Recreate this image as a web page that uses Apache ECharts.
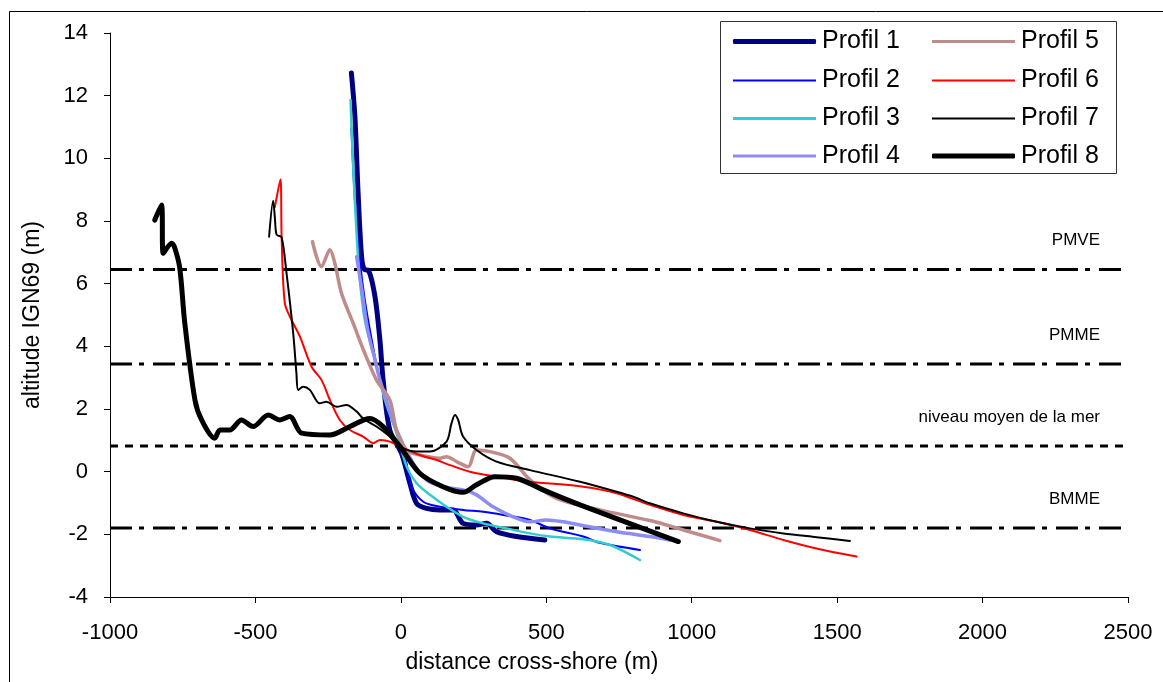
<!DOCTYPE html>
<html>
<head>
<meta charset="utf-8">
<script src="https://cdn.jsdelivr.net/npm/echarts@6/dist/echarts.min.js"></script>
<style>
html,body{margin:0;padding:0;background:#fff;}
#chart{width:1163px;height:682px;}
</style>
</head>
<body>
<div id="chart"></div>
<script>
// ---- data (distance cross-shore m, altitude IGN69 m) ----
const seriesNames = ['Profil 1','Profil 2','Profil 3','Profil 4','Profil 5','Profil 6','Profil 7','Profil 8'];
const profil1 = [[-170,12.72],[-158,11.33],[-147,8.89],[-135,6.86],[-125,6.45],[-112,6.43],[-89,5.59],[-72,4.20],[-61,2.93],[-38,1.33],[2,0.59],[31,-0.37],[54,-1.01],[88,-1.17],[134,-1.22],[180,-1.22],[214,-1.65],[260,-1.70],[295,-1.65],[329,-1.92],[398,-2.07],[495,-2.18]];
const profil2 = [[-170,10.96],[-158,8.67],[-141,6.75],[-124,5.48],[-100,4.20],[-72,2.93],[-15,1.33],[14,0.48],[37,-0.48],[77,-0.96],[134,-1.12],[214,-1.22],[283,-1.28],[352,-1.38],[444,-1.54],[512,-1.81],[627,-2.07],[684,-2.27],[822,-2.50]];
const profil3 = [[-173,11.86],[-165,9.95],[-151,7.40],[-141,6.12],[-124,4.84],[-89,3.57],[-55,2.29],[-15,1.23],[20,0.16],[54,-0.37],[100,-0.74],[157,-1.12],[214,-1.44],[283,-1.65],[363,-1.81],[444,-1.97],[512,-2.07],[627,-2.16],[719,-2.34],[822,-2.82]];
const profil4 = [[-152,6.86],[-134,5.80],[-114,4.52],[-89,3.57],[-72,2.93],[-15,1.33],[42,0.27],[88,-0.26],[145,-0.48],[214,-0.58],[260,-0.74],[317,-1.12],[386,-1.44],[444,-1.60],[501,-1.54],[558,-1.60],[616,-1.70],[742,-1.92],[856,-2.07],[925,-2.18]];
const profil5 = [[-304,7.34],[-273,6.54],[-244,7.08],[-227,6.65],[-204,5.69],[-164,4.74],[-124,3.78],[-84,2.93],[-38,2.29],[-15,1.33],[20,0.69],[65,0.53],[134,0.43],[157,0.48],[192,0.32],[231,0.16],[260,0.69],[306,0.64],[375,0.43],[444,-0.26],[535,-0.85],[684,-1.22],[856,-1.56],[971,-1.86],[1097,-2.20]];
const profil6 = [[-433,8.45],[-414,9.33],[-410,7.50],[-399,5.38],[-376,4.84],[-347,4.31],[-307,3.35],[-273,2.93],[-244,2.29],[-210,1.65],[-175,1.33],[-130,1.12],[-95,0.91],[-72,1.01],[-38,0.96],[8,0.75],[65,0.53],[123,0.37],[169,0.21],[237,0.00],[329,-0.16],[444,-0.32],[627,-0.48],[742,-0.69],[856,-1.06],[971,-1.38],[1086,-1.60],[1200,-1.86],[1315,-2.18],[1429,-2.45],[1567,-2.71]];
const profil7 = [[-453,7.50],[-439,8.65],[-433,8.09],[-427,7.56],[-410,7.48],[-393,6.33],[-370,4.41],[-359,3.14],[-353,2.61],[-336,2.71],[-313,2.61],[-279,2.18],[-256,2.23],[-221,2.07],[-187,2.13],[-152,1.92],[-130,1.70],[-84,1.44],[-38,1.12],[-3,0.80],[54,0.64],[100,0.64],[157,0.96],[174,1.54],[186,1.81],[197,1.65],[214,1.12],[260,0.69],[329,0.32],[444,0.05],[616,-0.32],[742,-0.64],[799,-0.80],[856,-1.01],[971,-1.33],[1086,-1.60],[1200,-1.81],[1315,-1.97],[1429,-2.09],[1544,-2.21]];
const profil8 = [[-846,8.03],[-823,8.51],[-817,6.97],[-788,7.29],[-777,7.13],[-760,6.49],[-743,4.75],[-708,2.29],[-685,1.65],[-640,1.07],[-622,1.33],[-588,1.33],[-548,1.65],[-508,1.44],[-456,1.81],[-416,1.65],[-382,1.76],[-341,1.23],[-244,1.17],[-175,1.44],[-107,1.70],[-61,1.44],[-3,0.80],[65,-0.05],[145,-0.48],[214,-0.66],[260,-0.42],[323,-0.16],[398,-0.21],[489,-0.58],[616,-1.06],[954,-2.23]];
const refLevels = [6.45, 3.44, 0.82, -1.80];
const refNames = ['PMVE', 'PMME', 'niveau moyen de la mer', 'BMME'];
const xTicks = [-1000, 2500, 500];
const yTicks = [-4, 14, 2];

const profiles = [profil1, profil2, profil3, profil4, profil5, profil6, profil7, profil8];
const styles = [
  {color:'#000080', width:5},
  {color:'#0000ff', width:2},
  {color:'#33cccc', width:2.5},
  {color:'#8c8cf2', width:3.5},
  {color:'#bf8c8c', width:3.5},
  {color:'#ff0000', width:2},
  {color:'#000000', width:2},
  {color:'#000000', width:5}
];
const legendIconH = [5, 2, 3, 3, 3, 2, 2, 5];
const refTypes = [[22,7,5,9],[22,7,5,9],[8,7],[22,7,5,9]];

const FONT = 'Liberation Sans, Arial, sans-serif';
const chart = echarts.init(document.getElementById('chart'), null, {renderer:'canvas'});

const series = [];
refLevels.forEach((lvl, i) => {
  series.push({
    name: refNames[i], type:'line', data:[[xTicks[0], lvl],[xTicks[1], lvl]],
    symbol:'none', silent:true, z:1,
    lineStyle:{color:'#000', width:3, type:refTypes[i]}
  });
});
profiles.forEach((p, i) => {
  series.push({
    name: seriesNames[i], type:'line', data:p, symbol:'none', showSymbol:false,
    smooth:0.3, z:2+i,
    lineStyle:{color:styles[i].color, width:styles[i].width, cap:'round', join:'round'},
    itemStyle:{color:styles[i].color}
  });
});

// one legend per entry, laid out in two columns of four
const rowCenters = [41.5, 80.5, 118.5, 156];
const legends = seriesNames.map((n, i) => ({
  show:true, orient:'vertical', padding:0,
  left: i < 4 ? 733 : 932,
  top: rowCenters[i % 4] - 12.5,
  itemWidth:83, itemHeight:legendIconH[i],
  icon: legendIconH[i] >= 4 ? 'roundRect' : 'rect',
  itemStyle:{color:styles[i].color, borderWidth:0},
  textStyle:{fontFamily:FONT, fontSize:25, color:'#000', lineHeight:25, padding:[0,0,0,1]},
  selectedMode:false,
  data:[n]
}));

const plainNum = v => String(v);

chart.setOption({
  animation:false,
  backgroundColor:'#fff',
  grid:{left:110, right:35, top:33, bottom:85, containLabel:false},
  xAxis:{
    type:'value', min:xTicks[0], max:xTicks[1], interval:xTicks[2],
    name:'distance cross-shore (m)', nameLocation:'middle', nameGap:54,
    nameTextStyle:{fontFamily:FONT, fontSize:23, color:'#000', padding:[0,174,0,0]},
    axisLine:{onZero:false, lineStyle:{color:'#000', width:1}},
    axisTick:{show:true, length:6, inside:false, lineStyle:{color:'#000'}},
    axisLabel:{fontFamily:FONT, fontSize:22, color:'#000', margin:25, formatter:plainNum},
    splitLine:{show:false}
  },
  yAxis:{
    type:'value', min:yTicks[0], max:yTicks[1], interval:yTicks[2],
    name:'altitude IGN69 (m)', nameLocation:'middle', nameGap:66,
    nameTextStyle:{fontFamily:FONT, fontSize:23, color:'#000'},
    axisLine:{show:true, onZero:false, lineStyle:{color:'#000', width:1}},
    axisTick:{show:true, length:6, inside:false, lineStyle:{color:'#000'}},
    axisLabel:{fontFamily:FONT, fontSize:22, color:'#000', margin:22, formatter:plainNum},
    splitLine:{show:false}
  },
  legend: legends,
  series: series
});

// graphics: outer border, legend box, reference labels
const graphics = [
  {type:'rect', shape:{x:9.5, y:11.5, width:1200, height:700}, style:{fill:'none', stroke:'#000', lineWidth:1}, silent:true},
  {type:'rect', shape:{x:720.5, y:21.5, width:396, height:152}, style:{fill:'none', stroke:'#333', lineWidth:1}, silent:true}
];
refLevels.forEach((lvl, i) => {
  const pt = chart.convertToPixel({gridIndex:0}, [xTicks[1], lvl]);
  graphics.push({type:'text', x:pt[0]-28, y:pt[1]-29, silent:true,
    style:{text:refNames[i], fontFamily:FONT, fontSize:17, fill:'#000', align:'right', verticalAlign:'middle'}});
});
chart.setOption({graphic:graphics});
</script>
</body>
</html>
